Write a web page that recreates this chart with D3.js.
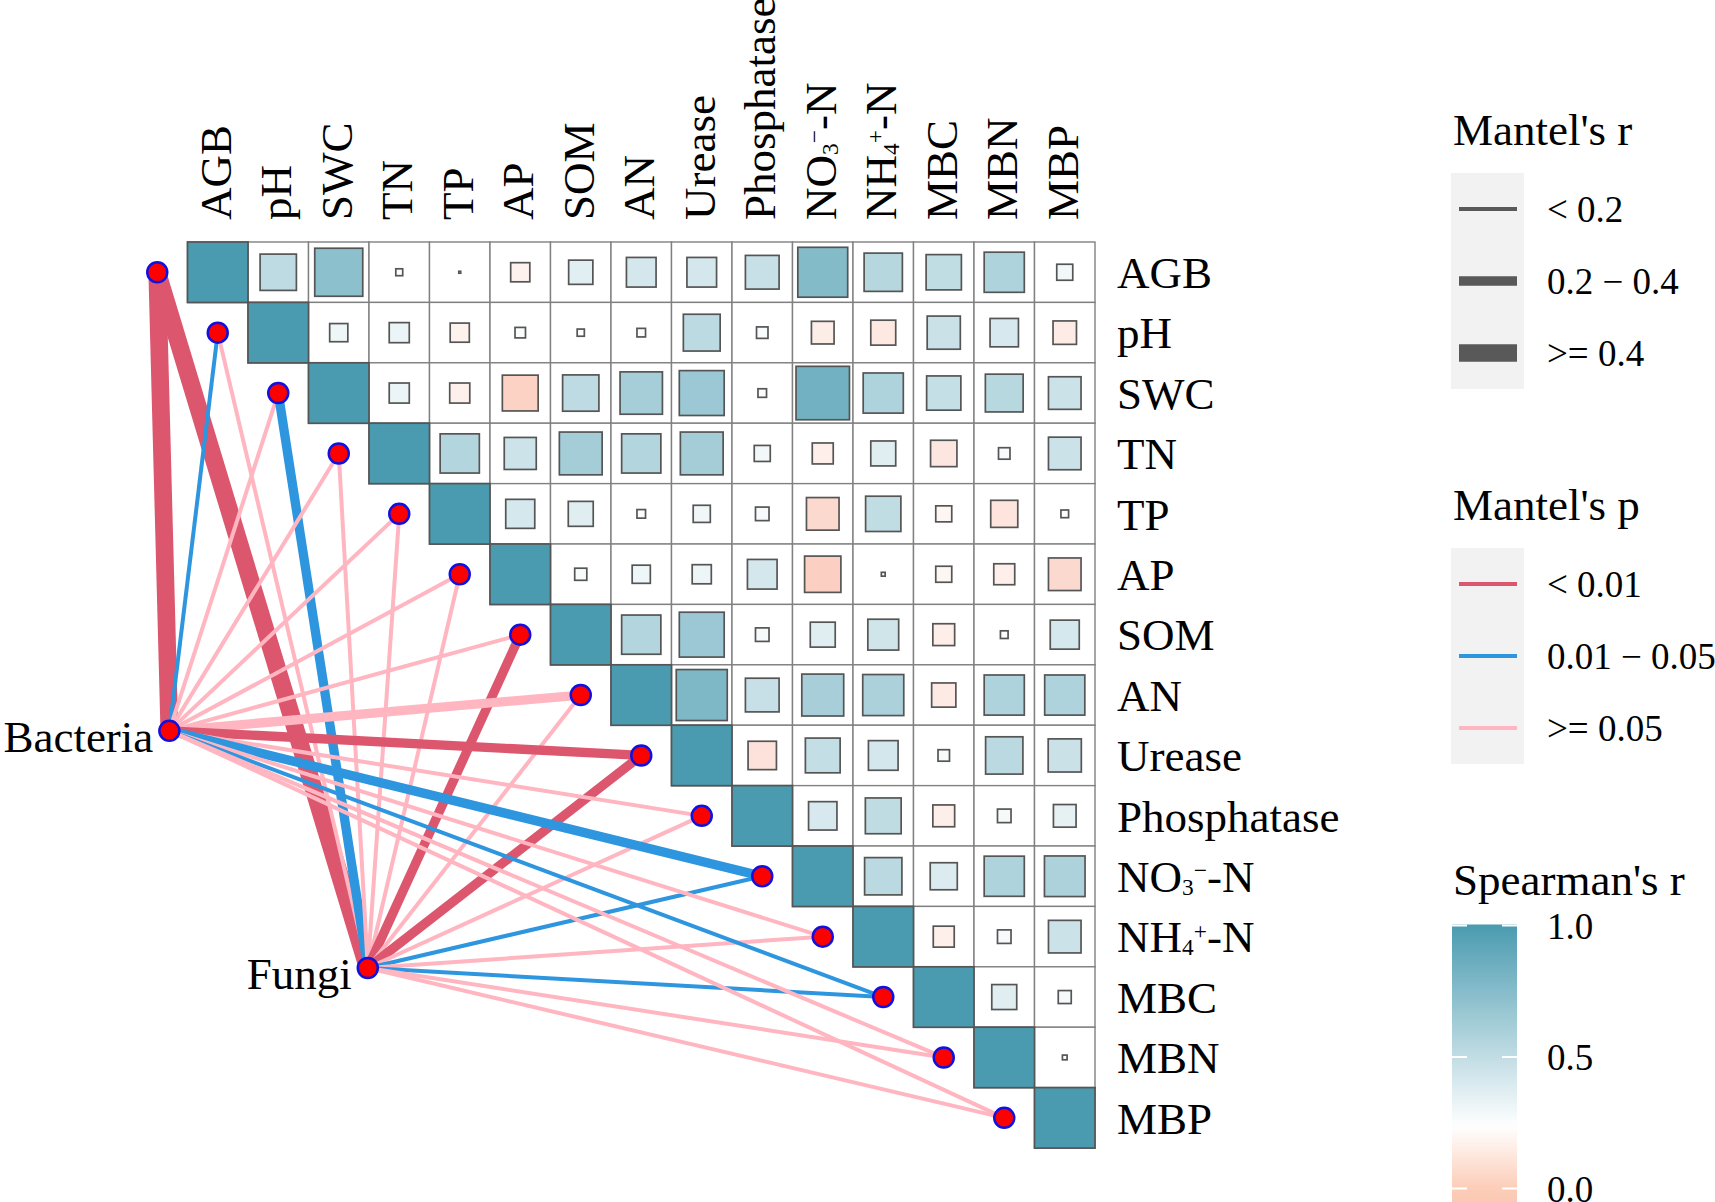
<!DOCTYPE html>
<html>
<head>
<meta charset="utf-8">
<script src="https://cdn.jsdelivr.net/npm/d3@7"></script>
<style>
  body { margin: 0; background: #fff; }
  text { font-family: "Liberation Serif", "Times New Roman", serif; fill: #000; }
</style>
</head>
<body>
<div id="chart"></div>
<script>
const width = 1715, height = 1202

const vars = ["AGB", "pH", "SWC", "TN", "TP", "AP", "SOM", "AN", "Urease", "Phosphatase", "NO3", "NH4", "MBC", "MBN", "MBP"]

// Spearman's r, upper triangle, row by row (row i = columns i+1 .. 14)
const spearman = [
  [0.36, 0.63, 0.013, 0.001, -0.10, 0.16, 0.24, 0.24, 0.31, 0.68, 0.40, 0.34, 0.44, 0.07], // AGB
  [0.09, 0.11, -0.10, 0.03, 0.014, 0.02, 0.37, 0.036, -0.14, -0.17, 0.30, 0.22, -0.15],    // pH
  [0.11, -0.11, -0.35, 0.36, 0.49, 0.55, 0.02, 0.78, 0.44, 0.32, 0.39, 0.29],             // SWC
  [0.42, 0.28, 0.50, 0.42, 0.50, 0.07, -0.12, 0.17, -0.19, 0.036, 0.29],                   // TN
  [0.23, 0.17, 0.02, 0.08, 0.05, -0.29, 0.34, -0.07, -0.20, 0.016],                         // TP
  [0.04, 0.09, 0.10, 0.24, -0.36, 0.004, -0.07, -0.12, -0.29],                              // AP
  [0.42, 0.55, 0.05, 0.17, 0.26, -0.13, 0.016, 0.23],                                       // SOM
  [0.71, 0.31, 0.48, 0.46, -0.16, 0.44, 0.44],                                              // AN
  [-0.22, 0.33, 0.24, 0.036, 0.38, 0.30],                                                   // Urease
  [0.22, 0.35, -0.13, 0.05, 0.14],                                                          // Phosphatase
  [0.38, 0.20, 0.44, 0.45],                                                                 // NO3
  [-0.12, 0.05, 0.29],                                                                      // NH4
  [0.17, 0.046],                                                                            // MBC
  [0.006]                                                                                   // MBN
]

// Mantel test results, one value per variable in `vars` order
const species = ["Bacteria", "Fungi"]
const bacteriaR = [0.55, 0.12, 0.08, 0.06, 0.09, 0.05, 0.10, 0.25, 0.30, 0.07, 0.32, 0.04, 0.15, 0.06, 0.03]
const bacteriaP = [0.001, 0.03, 0.21, 0.35, 0.18, 0.42, 0.15, 0.06, 0.002, 0.27, 0.02, 0.51, 0.04, 0.33, 0.61]
const fungiR = [0.62, 0.05, 0.29, 0.04, 0.07, 0.08, 0.31, 0.09, 0.34, 0.06, 0.16, 0.05, 0.13, 0.04, 0.06]
const fungiP = [0.001, 0.44, 0.02, 0.52, 0.31, 0.22, 0.004, 0.19, 0.001, 0.36, 0.03, 0.47, 0.04, 0.58, 0.39]

const rBreaks = [0.2, 0.4]
const rLabels = ["< 0.2", "0.2 \u2212 0.4", ">= 0.4"]
const pBreaks = [0.01, 0.05]
const pLabels = ["< 0.01", "0.01 \u2212 0.05", ">= 0.05"]
const spearmanTicks = [1.0, 0.5, 0.0]

// labels with chemistry sub/superscripts: 0 normal, 1 sub, 2 sup
const labelParts = {
  NO3: [["NO", 0], ["3", 1], ["\u2212", 2], ["-N", 0]],
  NH4: [["NH", 0], ["4", 1], ["+", 2], ["-N", 0]]
}

const svg = d3.select("#chart").append("svg")
  .attr("width", width)
  .attr("height", height)

svg.append("rect").attr("width", width).attr("height", height).attr("fill", "#fff")

const x = d3.scaleBand().domain(vars).range([187.5, 1095])
const y = d3.scaleBand().domain(vars).range([242, 1148])
const bw = x.bandwidth()

const cellColor = d3.scaleLinear().domain([-0.7, 0, 1]).range(["#F7A488", "#FFFFFF", "#4A9BB0"])
const lineWidth = d3.scaleThreshold().domain(rBreaks).range([4, 9.3, 17.7])
const lineColor = d3.scaleThreshold().domain(pBreaks).range(["#DC566E", "#2E95DF", "#FFB6C1"])

function appendLabel(sel, name, fs) {
  const parts = labelParts[name] || [[name, 0]]
  let shift = 0
  parts.forEach(([t, kind]) => {
    const target = kind === 1 ? fs * 0.06 : kind === 2 ? -fs * 0.3 : 0
    sel.append("tspan")
      .attr("dy", target - shift)
      .style("font-size", (kind ? fs * 0.52 : fs) + "px")
      .text(t)
    shift = target
  })
}

// cells of the upper triangle
const cells = []
vars.forEach((rowVar, i) => {
  cells.push({ row: rowVar, col: rowVar, r: 1 })
  spearman[i] && spearman[i].forEach((r, k) => cells.push({ row: rowVar, col: vars[i + 1 + k], r }))
})

const grid = svg.append("g")
grid.selectAll("rect.bg")
  .data(cells)
  .join("rect")
  .attr("class", "bg")
  .attr("x", d => x(d.col))
  .attr("y", d => y(d.row))
  .attr("width", bw)
  .attr("height", bw)
  .attr("fill", "#fff")
  .attr("stroke", "#808080")
  .attr("stroke-width", 1.4)

grid.selectAll("rect.sq")
  .data(cells)
  .join("rect")
  .attr("class", "sq")
  .each(function (d) {
    const s = Math.sqrt(Math.abs(d.r)) * bw
    d3.select(this)
      .attr("x", x(d.col) + (bw - s) / 2)
      .attr("y", y(d.row) + (bw - s) / 2)
      .attr("width", s)
      .attr("height", s)
  })
  .attr("fill", d => cellColor(d.r))
  .attr("stroke", "#555")
  .attr("stroke-width", 1.7)

// column labels
svg.append("g").selectAll("text")
  .data(vars)
  .join("text")
  .attr("transform", d => `translate(${x(d) + bw / 2 + 13},220) rotate(-90)`)
  .each(function (d) { appendLabel(d3.select(this), d, 45) })

// row labels
svg.append("g").selectAll("text")
  .data(vars)
  .join("text")
  .attr("x", 1117)
  .attr("y", d => y(d) + bw / 2 + 15.7)
  .each(function (d) { appendLabel(d3.select(this), d, 45) })

// mantel links
const specPos = { Bacteria: [-0.3, 8.08], Fungi: [2.98, 12.0] } // in cell units from grid origin
const specX = s => x.range()[0] + specPos[s][0] * bw
const specY = s => y.range()[0] + specPos[s][1] * bw
const nodeX = v => x(v) - bw / 2
const nodeY = v => y(v) + bw / 2

const links = []
vars.forEach((v, i) => {
  links.push({ spec: "Bacteria", v, r: bacteriaR[i], p: bacteriaP[i] })
  links.push({ spec: "Fungi", v, r: fungiR[i], p: fungiP[i] })
})

svg.append("g").selectAll("line")
  .data(links)
  .join("line")
  .attr("x1", d => specX(d.spec))
  .attr("y1", d => specY(d.spec))
  .attr("x2", d => nodeX(d.v))
  .attr("y2", d => nodeY(d.v))
  .attr("stroke", d => lineColor(d.p))
  .attr("stroke-width", d => lineWidth(d.r))

const nodes = vars.map(v => ({ x: nodeX(v), y: nodeY(v) }))
  .concat(species.map(s => ({ x: specX(s), y: specY(s) })))

svg.append("g").selectAll("circle")
  .data(nodes)
  .join("circle")
  .attr("cx", d => d.x)
  .attr("cy", d => d.y)
  .attr("r", 10)
  .attr("fill", "#FF0000")
  .attr("stroke", "#1010E0")
  .attr("stroke-width", 2.5)

svg.append("g").selectAll("text")
  .data(species)
  .join("text")
  .attr("x", d => specX(d) - 16)
  .attr("y", d => specY(d) + 21)
  .attr("text-anchor", "end")
  .style("font-size", "45px")
  .text(d => d)

// legends
const lgX = 1451, keyW = 73, txtX = 1547

function keyLegend(title, titleY, boxY, labels, strokeOf, widthOf) {
  const g = svg.append("g")
  g.append("text").attr("x", 1453).attr("y", titleY).style("font-size", "45px").text(title)
  g.append("rect").attr("x", lgX).attr("y", boxY).attr("width", keyW).attr("height", 216).attr("fill", "#F2F2F2")
  labels.forEach((lab, k) => {
    const cy = boxY + 36 + k * 72
    g.append("line")
      .attr("x1", lgX + 8).attr("x2", lgX + 66)
      .attr("y1", cy).attr("y2", cy)
      .attr("stroke", strokeOf(k))
      .attr("stroke-width", widthOf(k))
    g.append("text").attr("x", txtX).attr("y", cy + 13).style("font-size", "37px").text(lab)
  })
}

keyLegend("Mantel's r", 145, 173, rLabels, () => "#595959", k => lineWidth.range()[k])
keyLegend("Mantel's p", 520, 548, pLabels, k => lineColor.range()[k], () => 4)

// Spearman colour bar
svg.append("text").attr("x", 1453).attr("y", 895).style("font-size", "45px").text("Spearman's r")

const barY = d3.scaleLinear().domain([0, 1]).range([1188.5, 925.5])
const barColor = d3.scaleLinear().domain([-0.55, 0, 0.235, 1]).range(["#F4A386", "#FCCDB8", "#FFFFFF", "#4A9BB0"])
const barDomain = [-0.55, 1]

const grad = svg.append("defs").append("linearGradient")
  .attr("id", "spear").attr("x1", 0).attr("x2", 0).attr("y1", 0).attr("y2", 1)
d3.range(0, 1.0001, 0.02).forEach(t => {
  const v = barDomain[1] - t * (barDomain[1] - barDomain[0])
  grad.append("stop").attr("offset", t).attr("stop-color", barColor(v))
})

svg.append("rect")
  .attr("x", 1452).attr("width", 65)
  .attr("y", barY(barDomain[1]) - 1)
  .attr("height", barY(barDomain[0]) - barY(barDomain[1]) + 1)
  .attr("fill", "url(#spear)")

const ticks = svg.append("g")
spearmanTicks.forEach(t => {
  ticks.append("line").attr("x1", 1452).attr("x2", 1467).attr("y1", barY(t)).attr("y2", barY(t))
    .attr("stroke", "#fff").attr("stroke-width", 2)
  ticks.append("line").attr("x1", 1502).attr("x2", 1517).attr("y1", barY(t)).attr("y2", barY(t))
    .attr("stroke", "#fff").attr("stroke-width", 2)
  ticks.append("text").attr("x", txtX).attr("y", barY(t) + 13).style("font-size", "37px").text(t.toFixed(1))
})
</script>
</body>
</html>
